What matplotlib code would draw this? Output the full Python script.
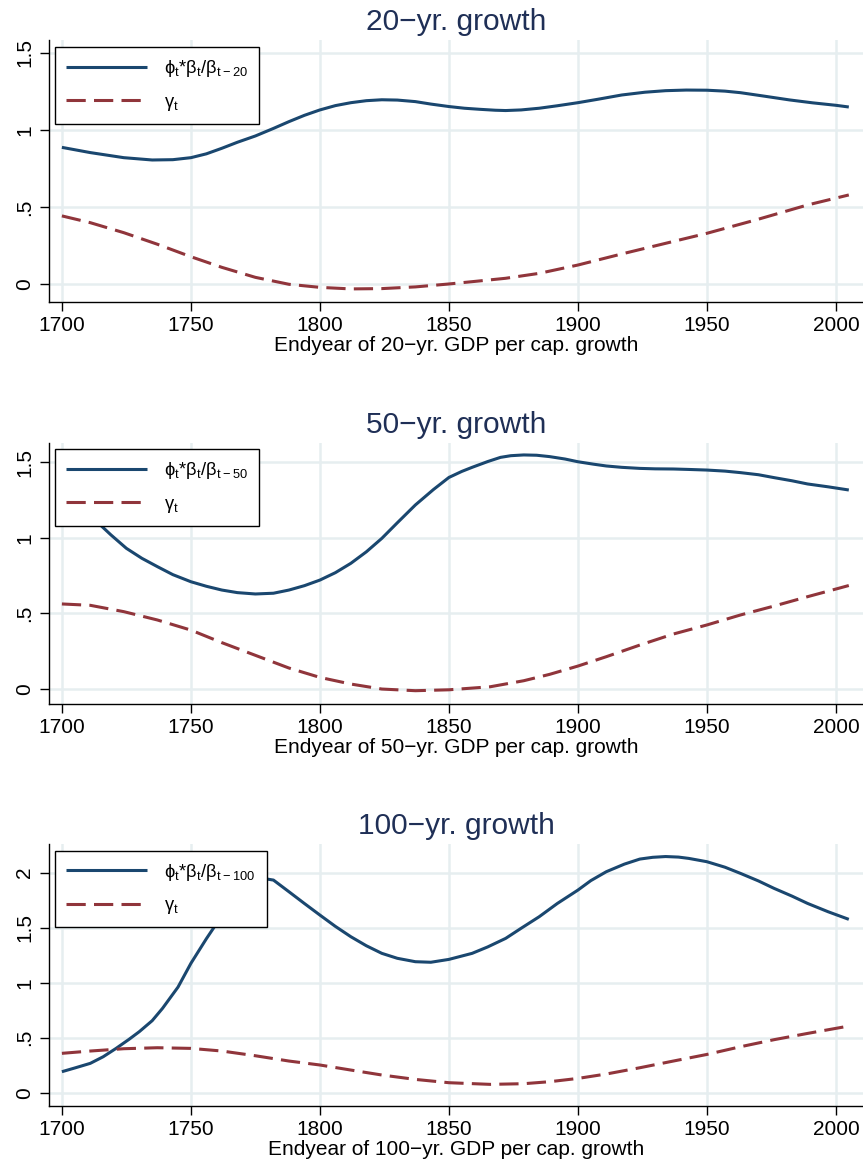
import matplotlib
matplotlib.use("Agg")
import matplotlib.pyplot as plt

plt.rcParams["font.family"] = ["Liberation Sans", "DejaVu Sans"]
plt.rcParams["mathtext.fontset"] = "custom"
plt.rcParams["mathtext.rm"] = "Liberation Sans"
plt.rcParams["mathtext.default"] = "regular"

# ---- 20-year growth ----
p20_phi_years = [1700, 1711, 1724, 1735, 1743, 1750, 1756, 1762, 1768, 1775, 1782, 1788, 1794,
                 1800, 1806, 1812, 1818, 1824, 1830, 1837, 1843, 1850, 1856, 1862, 1868, 1872,
                 1878, 1885, 1892, 1900, 1908, 1917, 1926, 1934, 1942, 1950, 1957, 1963, 1972,
                 1982, 1991, 2000, 2005]
p20_phi = [0.887, 0.853, 0.820, 0.805, 0.807, 0.820, 0.845, 0.881, 0.920, 0.961, 1.010, 1.054, 1.095,
           1.130, 1.158, 1.177, 1.190, 1.196, 1.194, 1.184, 1.168, 1.152, 1.141, 1.134, 1.128, 1.126,
           1.130, 1.141, 1.157, 1.177, 1.200, 1.227, 1.245, 1.255, 1.259, 1.258, 1.252, 1.242, 1.220,
           1.195, 1.176, 1.160, 1.149]
p20_gamma_years = [1700, 1711, 1724, 1737, 1750, 1762, 1775, 1788, 1800, 1812, 1824, 1837,
                   1850, 1862, 1872, 1885, 1900, 1917, 1934, 1950, 1969, 1989, 2005]
p20_gamma = [0.442, 0.398, 0.333, 0.258, 0.177, 0.108, 0.043, -0.002, -0.022, -0.032, -0.030, -0.019,
             0.000, 0.020, 0.037, 0.069, 0.123, 0.195, 0.264, 0.329, 0.416, 0.513, 0.578]

# ---- 50-year growth ----
p50_phi_years = [1700, 1705, 1710, 1714, 1719, 1725, 1731, 1737, 1743, 1750, 1756, 1762, 1768,
                 1775, 1782, 1788, 1794, 1800, 1806, 1812, 1818, 1824, 1830, 1837, 1844, 1850,
                 1855, 1859, 1865, 1870, 1874, 1879, 1884, 1889, 1895, 1900, 1906, 1911, 1917,
                 1924, 1930, 1937, 1943, 1950, 1957, 1963, 1970, 1976, 1983, 1989, 1997, 2005]
p50_phi = [1.31, 1.235, 1.16, 1.10, 1.02, 0.931, 0.865, 0.810, 0.757, 0.710, 0.680, 0.655, 0.638,
           0.629, 0.634, 0.655, 0.684, 0.721, 0.770, 0.832, 0.908, 0.997, 1.100, 1.218, 1.320, 1.400,
           1.440, 1.467, 1.505, 1.533, 1.544, 1.549, 1.547, 1.538, 1.522, 1.504, 1.488, 1.476, 1.467,
           1.460, 1.457, 1.456, 1.453, 1.449, 1.442, 1.432, 1.418, 1.399, 1.378, 1.357, 1.338, 1.317]
p50_gamma_years = [1700, 1711, 1724, 1737, 1750, 1762, 1775, 1788, 1800, 1812, 1824, 1837, 1850,
                   1866, 1879, 1889, 1900, 1911, 1924, 1937, 1950, 1963, 1976, 1989, 2002, 2005]
p50_gamma = [0.563, 0.554, 0.512, 0.457, 0.390, 0.307, 0.223, 0.139, 0.077, 0.033, 0.000, -0.011,
             -0.005, 0.015, 0.055, 0.097, 0.152, 0.214, 0.291, 0.364, 0.424, 0.490, 0.549, 0.611,
             0.671, 0.685]

# ---- 100-year growth ----
p100_phi_years = [1700, 1705, 1711, 1716, 1721, 1726, 1730, 1735, 1739, 1745, 1750, 1756, 1760,
                  1765, 1770, 1775, 1778, 1782, 1788, 1794, 1800, 1806, 1812, 1818, 1824, 1830,
                  1837, 1843, 1850, 1859, 1865, 1872, 1878, 1885, 1892, 1900, 1905, 1911, 1918,
                  1924, 1929, 1934, 1939, 1943, 1950, 1957, 1963, 1970, 1976, 1983, 1989, 1997,
                  2005]
p100_phi = [0.191, 0.225, 0.267, 0.327, 0.403, 0.485, 0.555, 0.655, 0.767, 0.960, 1.176, 1.400, 1.540,
            1.690, 1.820, 1.920, 1.948, 1.933, 1.827, 1.720, 1.615, 1.512, 1.418, 1.336, 1.267, 1.222,
            1.191, 1.186, 1.212, 1.267, 1.325, 1.403, 1.495, 1.600, 1.720, 1.842, 1.928, 2.009, 2.078,
            2.124, 2.140, 2.147, 2.142, 2.130, 2.100, 2.050, 1.994, 1.925, 1.858, 1.787, 1.721, 1.645,
            1.576]
p100_gamma_years = [1700, 1711, 1724, 1737, 1750, 1762, 1775, 1788, 1800, 1812, 1824, 1837, 1850,
                    1866, 1879, 1889, 1900, 1911, 1924, 1937, 1950, 1963, 1976, 1989, 2005]
p100_gamma = [0.358, 0.379, 0.400, 0.409, 0.403, 0.379, 0.336, 0.288, 0.252, 0.206, 0.161, 0.121,
              0.091, 0.076, 0.082, 0.100, 0.130, 0.170, 0.227, 0.288, 0.348, 0.418, 0.482, 0.539,
              0.606]

titles = ["20\u2212yr. growth", "50\u2212yr. growth", "100\u2212yr. growth"]
xlabels = ["Endyear of 20\u2212yr. GDP per cap. growth",
           "Endyear of 50\u2212yr. GDP per cap. growth",
           "Endyear of 100\u2212yr. GDP per cap. growth"]
phi_labels = ["\u03d5$_t$*\u03b2$_t$/\u03b2$_{t-20}$",
              "\u03d5$_t$*\u03b2$_t$/\u03b2$_{t-50}$",
              "\u03d5$_t$*\u03b2$_t$/\u03b2$_{t-100}$"]
gamma_label = "\u03b3$_t$"
x_ticks = [1700, 1750, 1800, 1850, 1900, 1950, 2000]
y_ticks = [[0, 0.5, 1, 1.5], [0, 0.5, 1, 1.5], [0, 0.5, 1, 1.5, 2]]
y_ticklabels = [["0", ".5", "1", "1.5"], ["0", ".5", "1", "1.5"], ["0", ".5", "1", "1.5", "2"]]

series = [
    (p20_phi_years, p20_phi, p20_gamma_years, p20_gamma),
    (p50_phi_years, p50_phi, p50_gamma_years, p50_gamma),
    (p100_phi_years, p100_phi, p100_gamma_years, p100_gamma),
]

NAVY = "#1a476f"
MAROON = "#90353b"
GRID = "#e6eef0"
TITLE = "#1f2f56"

W, H = 863, 1166
fig = plt.figure(figsize=(W / 100, H / 100), dpi=100)

# panel frames in pixels: (top, bottom), and y-limits
panel_px = [(40, 302), (442.7, 704), (844, 1105.7)]
ylims = [(-0.117, 1.584), (-0.099, 1.630), (-0.118, 2.261)]
legend_px = [(55, 47), (55, 449), (55, 850.7)]
left_px = 49

for i in range(3):
    top, bot = panel_px[i]
    ax = fig.add_axes([left_px / W, 1 - bot / H, (W - left_px) / W, (bot - top) / H])
    yrs_phi, phi, yrs_g, gam = series[i]
    ax.plot(yrs_phi, phi, color=NAVY, lw=2.2, solid_capstyle="butt", solid_joinstyle="round",
            label=phi_labels[i], zorder=3)
    ax.plot(yrs_g, gam, color=MAROON, lw=2.2, dashes=(6.3, 2.7), dash_capstyle="butt",
            label=gamma_label, zorder=3)

    ax.set_xlim(1695, 2010.5)
    ax.set_ylim(*ylims[i])
    ax.set_xticks(x_ticks)
    ax.set_yticks(y_ticks[i])
    ax.set_yticklabels(y_ticklabels[i], rotation=90, va="center")
    ax.tick_params(axis="both", which="major", length=6.5, width=1.0, color="black",
                   labelsize=15, labelcolor="black")
    ax.tick_params(axis="y", pad=4)
    ax.tick_params(axis="x", pad=3.5)
    ax.grid(True, color=GRID, lw=1.8, zorder=0)
    ax.set_axisbelow(True)
    for side in ["top", "right"]:
        ax.spines[side].set_visible(False)
    for side in ["left", "bottom"]:
        ax.spines[side].set_linewidth(1.0)
        ax.spines[side].set_color("black")

    ax.set_title(titles[i], fontsize=21.5, color=TITLE, pad=7)
    ax.set_xlabel(xlabels[i], fontsize=15, labelpad=1)

    lx, ly = legend_px[i]
    leg = ax.legend(loc="upper left", bbox_to_anchor=(lx / W, 1 - ly / H),
                    bbox_transform=fig.transFigure, borderaxespad=0,
                    fontsize=13.2, handlelength=4.4, handletextpad=0.95,
                    borderpad=0.6, labelspacing=0.8, fancybox=False,
                    framealpha=1, edgecolor="black")
    leg.get_frame().set_linewidth(1.0)
    leg.set_zorder(5)

fig.savefig("out.png", dpi=100, facecolor="white")
